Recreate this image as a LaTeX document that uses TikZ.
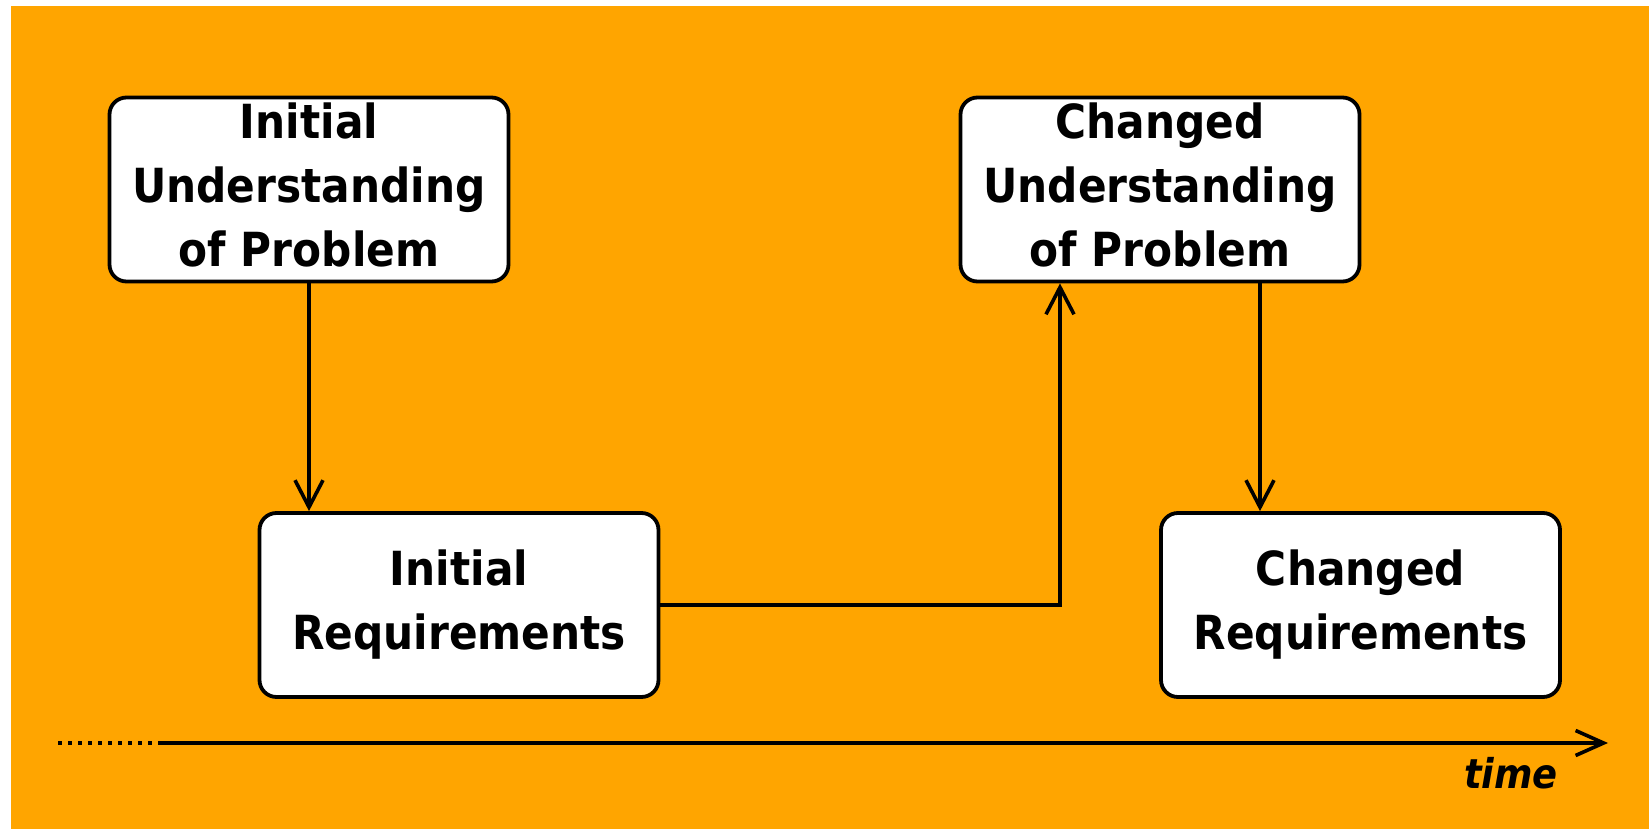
\documentclass[tikz,border=0pt]{standalone}
\usepackage{fontspec}
\setmainfont{DejaVu Sans}[FakeStretch=0.9]
\usetikzlibrary{arrows.meta}
\usetikzlibrary{positioning}
\definecolor{bgorange}{RGB}{255,165,0}
\tikzset{
    phase/.style={
        draw,
        line width=1.9pt,
        fill=white,
        rounded corners=8.5pt,
        minimum width=199.5pt,
        minimum height=92pt,
        inner sep=0pt,
        align=center,
        font=\fontsize{23.5}{32}\selectfont\bfseries,
        execute at end node=\vphantom{g}},
    flow/.style={
        draw,
        line width=1.8pt,
        -{Straight Barb[length=13.5pt,width=14pt]}},
    timeline/.style={
        draw,
        line width=1.8pt}}

\begin{document}
\begin{tikzpicture}[x=0.5pt,y=-0.5pt]
        \fill[white] (0,0) rectangle (1649,829);
        \fill[bgorange] (11,6) rectangle (1649,829);
        \useasboundingbox (0,0) rectangle (1649,829);

        \node[phase] (iu) at (309,189.5) {Initial\\Understanding\\of Problem};
        \node[phase] (ir) at (459,605) {Initial\\Requirements};
        \node[phase] (cu) at (1160,189.5) {Changed\\Understanding\\of Problem};
        \node[phase] (cr) at (1360.5,605) {Changed\\Requirements};

        \coordinate (cul) at ([xshift=-50pt]cu.south);
        \coordinate (cur) at ([xshift=50pt]cu.south);

        \draw[flow] (iu.south) -- (iu.south |- ir.north);
        \draw[flow] (ir.east) -| (cul);
        \draw[flow] (cur) -- (cur |- cr.north);

        % time axis
        \coordinate (t0) at (58,743);
        \coordinate (t1) at (158,743);
        \coordinate (t2) at (1608,743);
        \draw[timeline,dash pattern=on 2pt off 3pt] (t0) -- (t1);
        \draw[timeline,-{Straight Barb[length=14pt,width=12.5pt]}] (t1) -- (t2);
        \node[anchor=base,font=\fontsize{20.5}{24}\selectfont\bfseries\itshape] (time) at (1511,788) {time};
\end{tikzpicture}
\end{document}
